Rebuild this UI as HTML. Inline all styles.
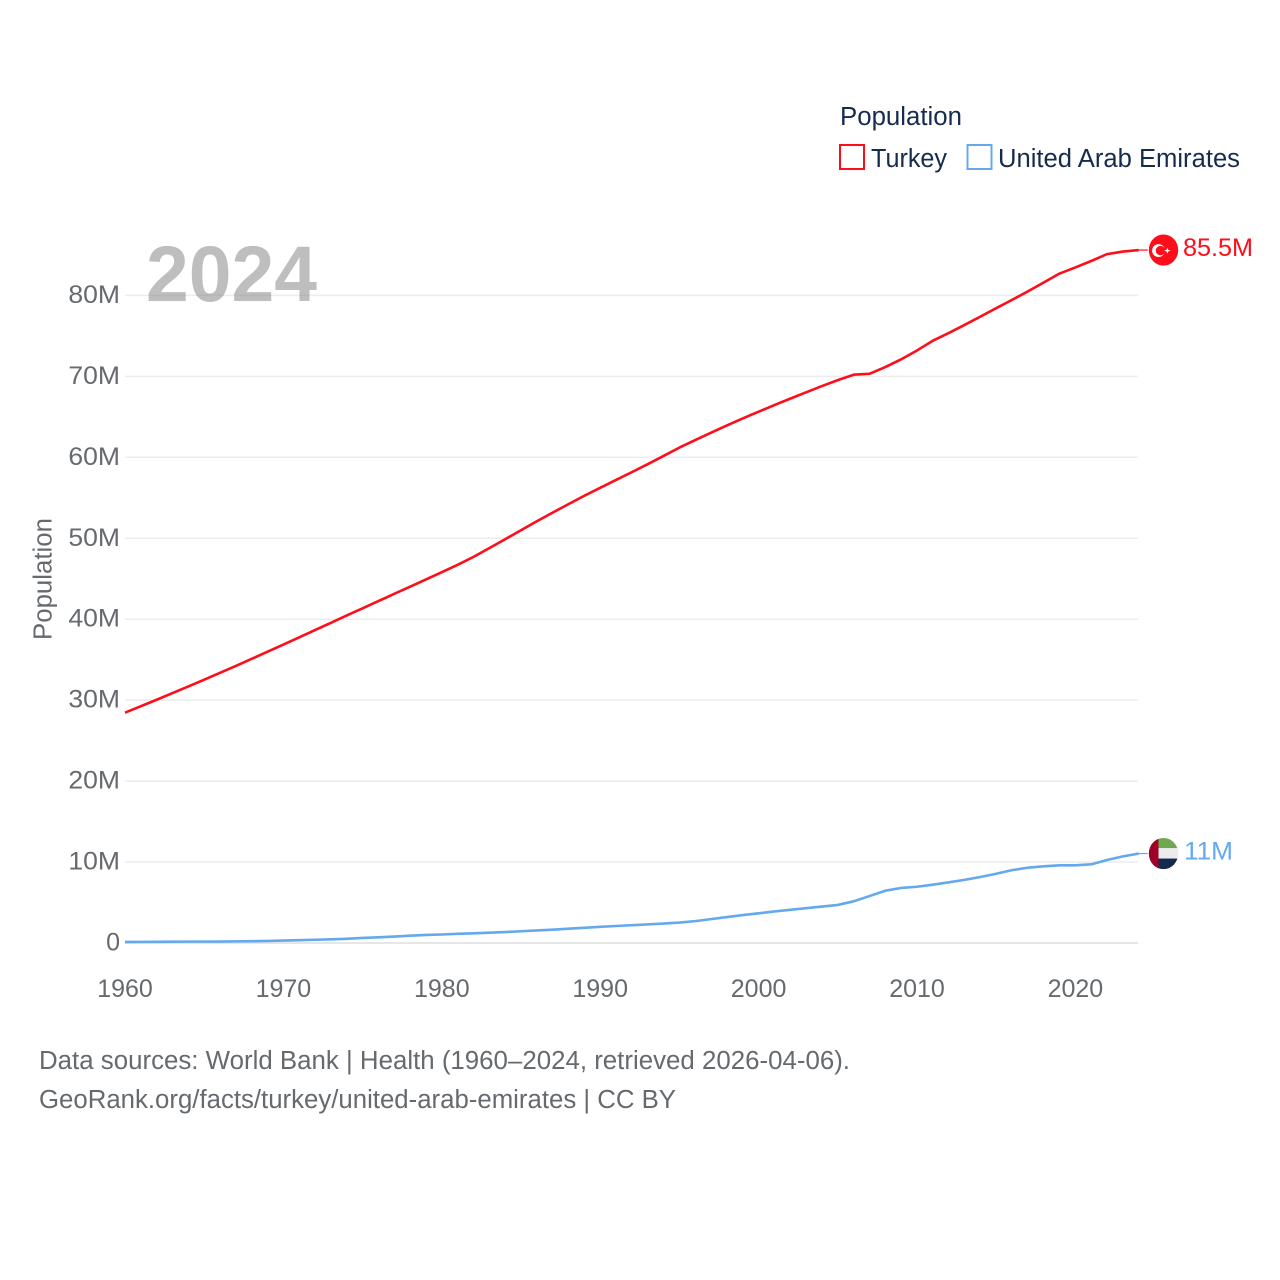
<!DOCTYPE html>
<html lang="en">
<head>
<meta charset="utf-8">
<title>Population: Turkey and United Arab Emirates</title>
<style>
html,body{margin:0;padding:0;background:#fff;width:1280px;height:1280px;overflow:hidden}
svg{display:block}
text{font-family:"Liberation Sans","DejaVu Sans",sans-serif}
</style>
</head>
<body>
<svg id="chart" xmlns="http://www.w3.org/2000/svg" width="1280" height="1280" viewBox="0 0 1280 1280">
  <rect x="0" y="0" width="1280" height="1280" fill="#fff"/>
  <g id="grid"></g>
  <g id="yticks"></g>
  <g id="xticks"></g>
  <text x="146" y="301" font-size="79" font-weight="700" fill="#807d80" fill-opacity="0.5" textLength="171" lengthAdjust="spacingAndGlyphs">2024</text>
  <text transform="translate(51.5,640) rotate(-90)" font-size="25.5" fill="#666a6e" textLength="122" lengthAdjust="spacingAndGlyphs">Population</text>
  <g id="series"></g>
  <g>
    <text x="840" y="125" font-size="25.5" fill="#172b4d" textLength="122" lengthAdjust="spacingAndGlyphs">Population</text>
    <rect x="840" y="145" width="24" height="24" fill="#fff" stroke="#ff0d1a" stroke-width="2"/>
    <text x="871" y="167" font-size="25.5" fill="#172b4d" textLength="76" lengthAdjust="spacingAndGlyphs">Turkey</text>
    <rect x="967.5" y="145" width="24" height="24" fill="#fff" stroke="#64a8ee" stroke-width="2"/>
    <text x="998" y="167" font-size="25.5" fill="#172b4d" textLength="242" lengthAdjust="spacingAndGlyphs">United Arab Emirates</text>
  </g>
  <g id="flag-turkey">
    <ellipse cx="0" cy="0" rx="14.7" ry="15.6" fill="#ff0d1a"/>
    <circle cx="-5" cy="0.5" r="6.4" fill="#fff"/>
    <circle cx="-3" cy="0.5" r="4.7" fill="#ff0d1a"/>
    <polygon points="0.6,0.5 3,-0.3 3.8,-2.6 4.6,-0.3 7,0.5 4.8,1.4 3.8,3.6 3,1.4" fill="#fff"/>
  </g>
  <g id="flag-uae">
    <clipPath id="uae-clip"><ellipse cx="0" cy="0" rx="14.7" ry="15.6"/></clipPath>
    <g clip-path="url(#uae-clip)">
      <rect x="-15" y="-16" width="30" height="11" fill="#6fa84e"/>
      <rect x="-15" y="-5.5" width="30" height="11" fill="#ececec"/>
      <rect x="-15" y="5" width="30" height="11" fill="#14294d"/>
      <rect x="-15" y="-16" width="10" height="32" fill="#a00028"/>
    </g>
  </g>
  <text id="end-turkey" x="1183" y="256" font-size="25" fill="#ff0d1a" textLength="70" lengthAdjust="spacingAndGlyphs"></text>
  <text id="end-uae" x="1184" y="859" font-size="25" fill="#64a8ee" textLength="49" lengthAdjust="spacingAndGlyphs"></text>
  <text x="39" y="1069" font-size="25.5" fill="#666a6e" textLength="811" lengthAdjust="spacingAndGlyphs">Data sources: World Bank | Health (1960–2024, retrieved 2026-04-06).</text>
  <text x="39" y="1108" font-size="25.5" fill="#666a6e" textLength="637" lengthAdjust="spacingAndGlyphs">GeoRank.org/facts/turkey/united-arab-emirates | CC BY</text>
</svg>
<script>
const firstYear = 1960;
const turkeyValues = [28.45,29.25,30.05,30.87,31.7,32.53,33.38,34.23,35.1,35.98,
  36.87,37.76,38.66,39.56,40.46,41.35,42.24,43.13,44.02,44.91,
  45.81,46.72,47.7,48.78,49.88,50.99,52.1,53.17,54.22,55.25,
  56.23,57.2,58.17,59.15,60.17,61.2,62.13,63.04,63.93,64.8,
  65.63,66.45,67.25,68.03,68.8,69.53,70.2,70.32,71.15,72.1,
  73.2,74.4,75.35,76.35,77.38,78.42,79.45,80.5,81.6,82.7,
  83.45,84.25,85.1,85.42,85.6];
const uaeValues = [0.13,0.14,0.15,0.16,0.17,0.17,0.18,0.2,0.22,0.26,
  0.3,0.35,0.4,0.45,0.52,0.62,0.7,0.8,0.9,1.0,
  1.05,1.13,1.2,1.28,1.35,1.45,1.55,1.65,1.77,1.88,
  2.0,2.1,2.2,2.3,2.4,2.52,2.7,2.95,3.2,3.45,
  3.67,3.9,4.1,4.3,4.5,4.7,5.15,5.8,6.46,6.8,
  6.95,7.2,7.5,7.8,8.15,8.56,9.0,9.3,9.47,9.6,
  9.6,9.72,10.25,10.7,11.05];
const yTickValues = [0,10,20,30,40,50,60,70,80];
const yTickLabels = ["0","10M","20M","30M","40M","50M","60M","70M","80M"];
const xTickYears = [1960,1970,1980,1990,2000,2010,2020];
const endLabels = ["85.5M","11M"];

const NS = "http://www.w3.org/2000/svg";
const xScale = year => 125 + (year - 1960) * 15.84;
const yScale = val => 943 - val * 8.095;

function make(tag, attrs, parent) {
  const el = document.createElementNS(NS, tag);
  for (const k in attrs) el.setAttribute(k, attrs[k]);
  parent.appendChild(el);
  return el;
}

const grid = document.getElementById("grid");
const yticks = document.getElementById("yticks");
const xticks = document.getElementById("xticks");
const series = document.getElementById("series");

yTickValues.forEach((v, i) => {
  const line = make("line", {x1: 125, x2: 1138, y1: yScale(v), y2: yScale(v),
    stroke: v === 0 ? "#e6e6e6" : "#ececec", "stroke-width": v === 0 ? 2 : 1.5}, grid);
  
  
  const t = make("text", {x: 120, y: yScale(v) + 7.5, "text-anchor": "end",
    "font-size": 25, fill: "#666a6e"}, yticks);
  
  
  t.textContent = yTickLabels[i];
  if (yTickLabels[i].length > 1) {
    t.setAttribute("textLength", (t.getComputedTextLength() * 1.06).toFixed(1));
    t.setAttribute("lengthAdjust", "spacingAndGlyphs");
  }
});

xTickYears.forEach(year => {
  const t = make("text", {x: xScale(year), y: 997, "text-anchor": "middle",
    "font-size": 25, fill: "#666a6e"}, xticks);
  
  
  t.textContent = year;
});

function drawSeries(values, color, name) {
  const pts = values.map((v, i) => xScale(firstYear + i).toFixed(2) + "," + yScale(v).toFixed(2));
  const p = make("polyline", {points: pts.join(" "), fill: "none", stroke: color,
    "stroke-width": 2.6, "stroke-linejoin": "round"}, series);
  
  
  const lastY = yScale(values[values.length - 1]);
  const lastX = xScale(firstYear + values.length - 1);
  const c = make("line", {x1: lastX, x2: lastX + 9, y1: lastY, y2: lastY,
    stroke: color, "stroke-width": 1.2}, series);
  
  
  return lastY;
}

const turkeyEnd = drawSeries(turkeyValues, "#ff0d1a", "turkey-line");
const uaeEnd = drawSeries(uaeValues, "#64a8ee", "uae-line");

document.getElementById("flag-turkey").setAttribute("transform", "translate(1163.5," + turkeyEnd + ")");
document.getElementById("flag-uae").setAttribute("transform", "translate(1163.5," + uaeEnd + ")");
const endT = document.getElementById("end-turkey");
endT.textContent = endLabels[0];
endT.setAttribute("y", turkeyEnd + 6);
const endU = document.getElementById("end-uae");
endU.textContent = endLabels[1];
endU.setAttribute("y", uaeEnd + 6);
</script>
</body>
</html>
